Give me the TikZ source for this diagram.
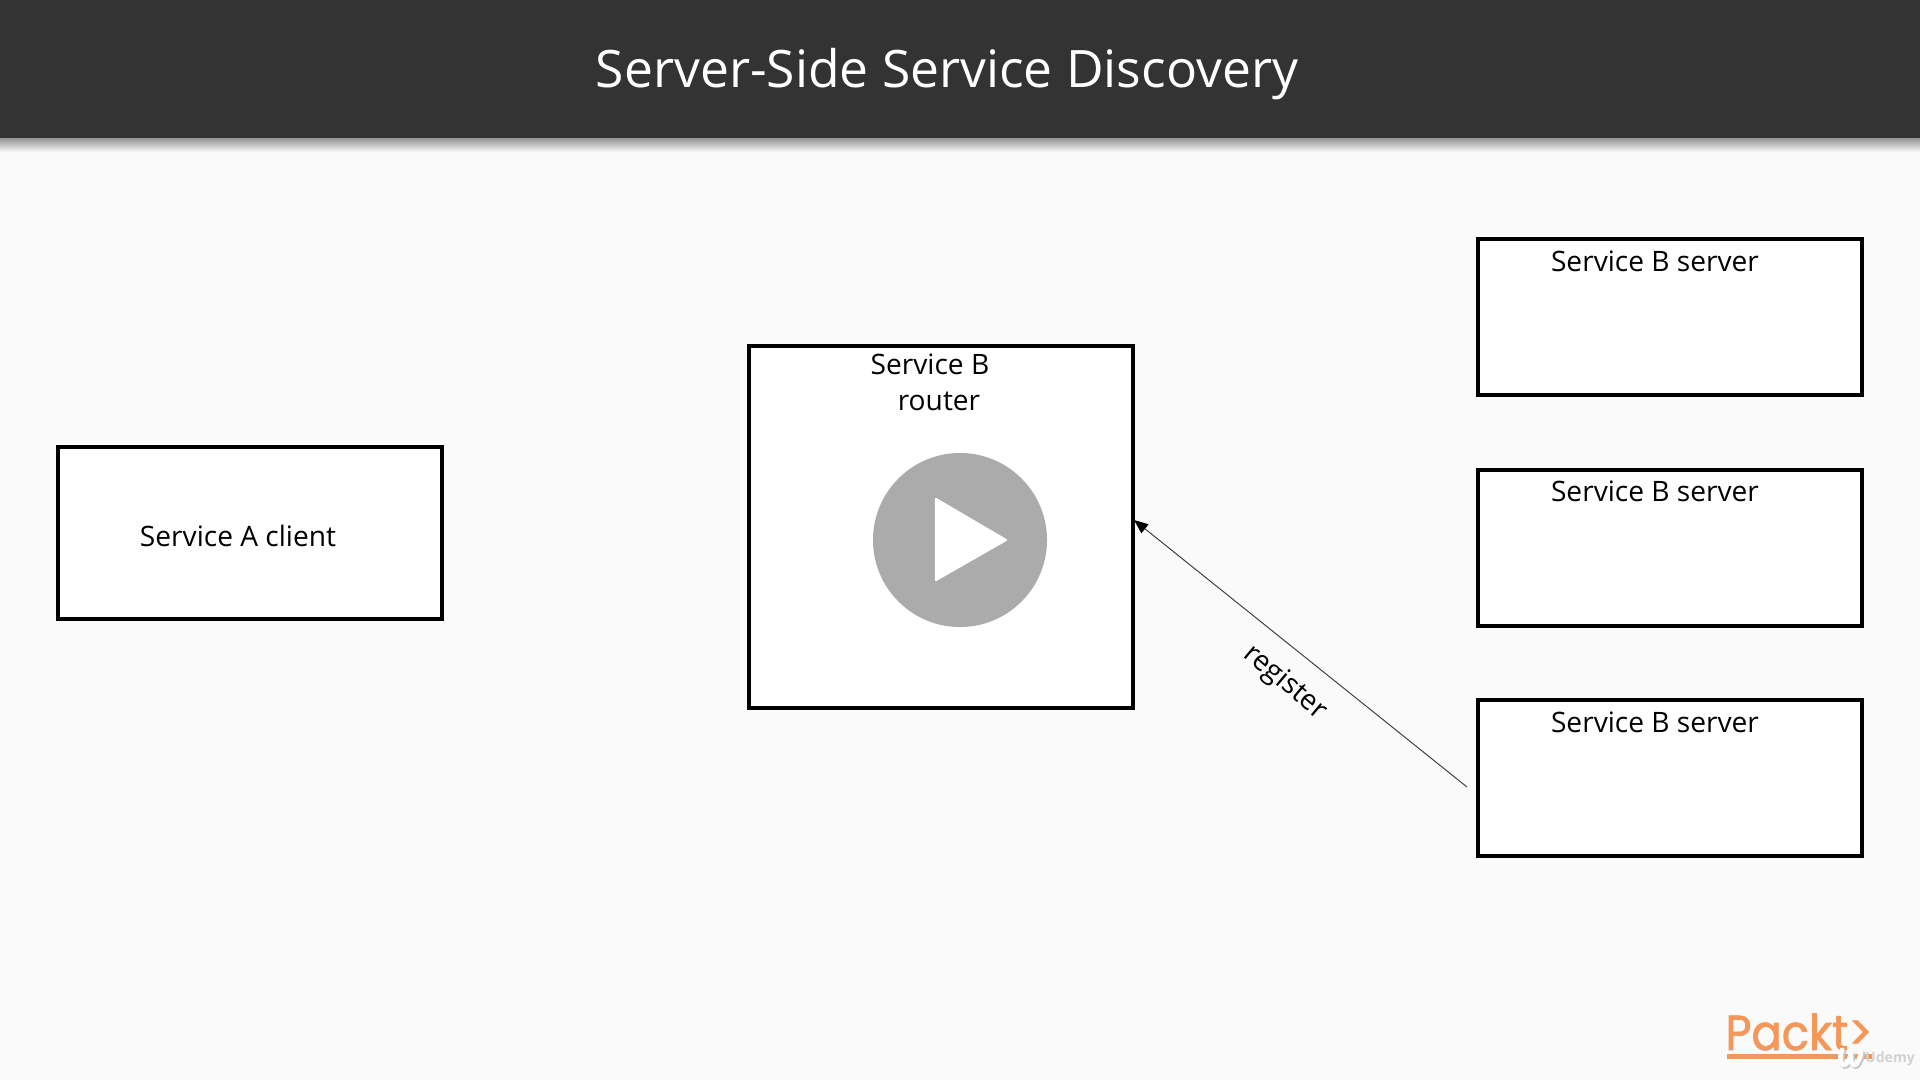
\documentclass[tikz,border=0pt]{standalone}
\usepackage{fontspec}
\usepackage{xcolor}
\setmainfont{Open Sans}
\newfontfamily\logofont[FakeBold=1.5, FakeStretch=0.91]{Poppins}
\usetikzlibrary{arrows.meta, positioning, shapes.geometric}
\definecolor{barcolor}{HTML}{333333}
\definecolor{pagecolor}{HTML}{FAFAFA}
\definecolor{playcolor}{HTML}{ABABAB}
\definecolor{packtcolor}{HTML}{F6975A}

\begin{document}
\begin{tikzpicture}[
    x=0.025cm, y=-0.025cm,
    % Box and text styles
    boxnode/.style={draw=black, fill=white, line width=2.85pt, inner sep=0pt, minimum width=9.6cm},
    boxlabel/.style={inner sep=0pt, font=\fontsize{20}{24}\selectfont},
    % Thin connector with its arrow head
    regline/.style={draw=black!75, line width=0.7pt, -{Triangle[length=10pt, width=8pt, color=black]}}
]
\useasboundingbox (0,0) rectangle (1920,1080);

% Page, header bar and its shadow
\fill[pagecolor] (0,0) rectangle (1920,1080);
\shade[top color=black!42, bottom color=pagecolor] (0,138) rectangle (1920,152);
\fill[barcolor] (0,0) rectangle (1920,138);
\node (title) [text=white, inner sep=0pt, font=\fontsize{36.7}{44}\selectfont] at (947,74) {Server-Side Service Discovery};

% Client on the left
\node (clientbox) [boxnode, minimum height=4.3cm] at (250,533) {};
\node (clientlabel) [boxlabel] at (238,536) {Service A client};

% Router in the middle, with the play mark
\node (routerbox) [boxnode, minimum height=9.07cm] at (941,527) {};
\node (routerlabela) [boxlabel] at (930,364) {Service B};
\node (routerlabelb) [boxlabel] at (939,401) {router};
\node (playcircle) [circle, fill=playcolor, minimum size=4.35cm, inner sep=0pt] at (960,540) {};
\fill[white, draw=white, line width=1.5pt, line join=round] (936,499) -- (1006,540) -- (936,580) -- cycle;

% Servers on the right
\node (serverboxa) [boxnode, minimum height=3.88cm] at (1670,317) {};
\node (serverlabela) [boxlabel] at (1655,261) {Service B server};
\node (serverboxb) [boxnode, minimum height=3.88cm] at (1670,548) {};
\node (serverlabelb) [boxlabel] at (1655,491) {Service B server};
\node (serverboxc) [boxnode, minimum height=3.88cm] at (1670,778) {};
\node (serverlabelc) [boxlabel] at (1655,722) {Service B server};

% Register arrow, free at both ends
\coordinate (regstart) at (1467,787);
\coordinate (regtip) at (1134,520);
\draw[regline] (regstart) -- (regtip);
\node (reglabel) [boxlabel, rotate=-40] at (1285,683) {register};

% Logo corner
\node (packt) [inner sep=0pt, text=packtcolor, font=\fontsize{35}{40}\logofont] at (1799,1032) {Packt>};
\coordinate (packtleft) at (1727,1056.5);
\coordinate (packtright) at (1872,1056.5);
\draw[packtcolor, line width=3.4pt] (packtleft) -- (packtright);
\draw[black!22, line width=3.8pt, line cap=round, xshift=1, yshift=-1] (1842,1050) .. controls (1836,1066) and (1848,1072) .. (1851,1052) .. controls (1849,1068) and (1858,1070) .. (1861,1052);
\draw[white, line width=3.4pt, line cap=round] (1842,1050) .. controls (1836,1066) and (1848,1072) .. (1851,1052) .. controls (1849,1068) and (1858,1070) .. (1861,1052);
\node (udemy) [inner sep=0pt, text=white!65!gray, font=\fontsize{10}{11}\selectfont\bfseries] at (1890,1059) {Udemy};
\end{tikzpicture}
\end{document}
